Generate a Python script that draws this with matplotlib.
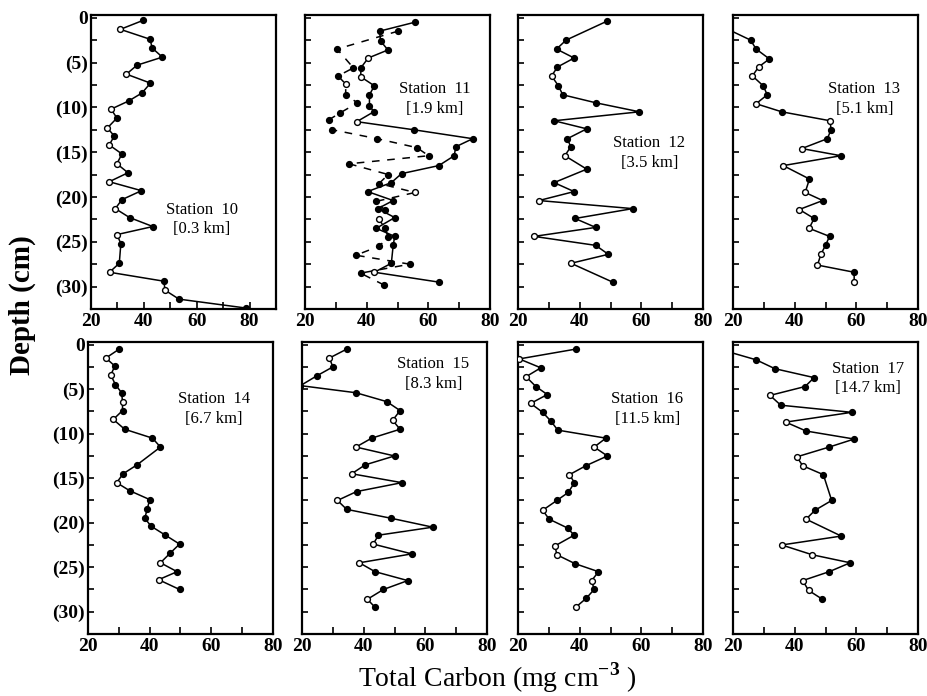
import matplotlib
matplotlib.use("Agg")
import matplotlib.pyplot as plt

plt.rcParams['font.family'] = ['Liberation Serif', 'DejaVu Serif']
plt.rcParams['mathtext.fontset'] = 'custom'
plt.rcParams['mathtext.rm'] = 'Liberation Serif'
plt.rcParams['mathtext.bf'] = 'Liberation Serif:bold'

# ---- data: depth (cm), total carbon (mg cm-3), indices of open symbols
st10_depth = [0.3, 1.3, 2.4, 3.4, 4.4, 5.3, 6.3, 7.3, 8.4, 9.3, 10.2, 11.2, 12.3, 13.2, 14.2, 15.2,
              16.3, 17.3, 18.3, 19.3, 20.3, 21.3, 22.3, 23.3, 24.2, 25.2, 27.4, 28.4, 29.4, 30.4, 31.4, 32.4]
st10_carbon = [39.7, 31.1, 42.3, 43.2, 47.0, 37.4, 33.4, 42.5, 39.3, 34.2, 27.6, 29.8, 26.2, 28.8, 26.9, 31.7,
               29.8, 34.0, 26.9, 39.1, 31.7, 29.2, 34.6, 43.4, 29.8, 31.3, 30.7, 27.0, 47.6, 48.0, 53.3, 78.8]
st10_open = [1, 6, 10, 12, 14, 16, 18, 21, 24, 27, 29]

# station 11 has two overlapping profiles: a solid one and a dashed one
st11a_depth = [0.5, 1.5, 2.6, 3.6, 4.5, 5.6, 6.6, 7.6, 8.6, 9.8, 10.5, 11.6, 12.5, 13.5, 14.4, 15.4,
               16.5, 17.4, 18.4, 19.4, 20.4, 21.3, 22.3, 23.5, 24.4, 25.4, 27.4, 28.4, 29.5]
st11a_carbon = [55.7, 44.2, 44.5, 46.9, 40.5, 38.1, 38.1, 42.5, 40.9, 40.9, 42.3, 36.8, 55.2, 74.4, 68.9, 68.4,
                63.4, 51.3, 48.0, 40.3, 48.6, 43.6, 49.1, 43.1, 49.1, 48.6, 48.0, 42.5, 63.4]
st11a_open = [4, 6, 11, 27]
st11b_depth = [1.5, 3.5, 5.6, 6.5, 7.4, 8.6, 9.5, 10.6, 11.4, 12.5, 13.5, 14.5, 15.4, 16.3, 17.5,
               18.5, 19.5, 20.5, 21.5, 22.5, 23.5, 24.5, 25.5, 26.5, 27.5, 28.5, 29.8]
st11b_carbon = [50.2, 30.4, 35.7, 30.7, 33.2, 33.2, 37.0, 31.5, 27.7, 28.8, 43.4, 56.3, 60.1, 34.3, 47.0,
                44.0, 55.7, 43.0, 46.0, 44.0, 46.0, 47.0, 44.0, 36.5, 54.0, 38.0, 45.5]
st11b_open = [4, 16, 19]

st12_depth = [0.4, 2.5, 3.5, 4.5, 5.5, 6.5, 7.6, 8.6, 9.5, 10.5, 11.5, 12.4, 13.5, 14.4, 15.4, 16.9,
              18.4, 19.4, 20.4, 21.3, 22.4, 23.4, 24.4, 25.4, 26.4, 27.4, 29.5]
st12_carbon = [48.8, 35.6, 32.5, 38.2, 32.8, 30.9, 33.1, 34.5, 45.3, 59.4, 31.7, 42.3, 36.0, 37.1, 35.2, 42.3,
               31.7, 38.2, 26.8, 57.2, 38.5, 45.2, 25.2, 45.2, 49.3, 37.2, 50.7]
st12_open = [5, 14, 18, 22, 25]

st13_depth = [0.5, 2.5, 3.5, 4.6, 5.5, 6.5, 7.6, 8.6, 9.6, 10.5, 11.5, 12.5, 13.5, 14.6, 15.4, 16.5,
              18.0, 19.5, 20.4, 21.4, 22.4, 23.5, 24.4, 25.4, 26.4, 27.6, 28.4, 29.5]
st13_carbon = [13.5, 25.7, 27.5, 31.8, 28.3, 26.3, 29.8, 31.1, 27.5, 35.8, 51.5, 51.8, 50.6, 42.3, 55.0, 36.3,
               44.8, 43.4, 49.1, 41.5, 46.3, 44.7, 51.3, 50.0, 48.5, 47.4, 59.3, 59.3]
st13_open = [4, 5, 8, 10, 13, 15, 17, 19, 21, 24, 25, 27]

st14_depth = [0.5, 1.5, 2.4, 3.4, 4.5, 5.4, 6.4, 7.4, 8.4, 9.5, 10.5, 11.5, 13.5, 14.5, 15.5, 16.4,
              17.4, 18.5, 19.5, 20.4, 21.4, 22.4, 23.4, 24.5, 25.5, 26.4, 27.5]
st14_carbon = [30.1, 25.8, 28.7, 27.4, 28.9, 30.9, 31.2, 31.2, 28.2, 31.9, 40.9, 43.5, 35.9, 31.4, 29.3, 33.5,
               40.0, 39.2, 38.4, 40.5, 45.1, 49.7, 46.7, 43.5, 48.9, 42.9, 49.7]
st14_open = [1, 3, 6, 8, 14, 23, 25]

st15_depth = [0.5, 1.5, 2.5, 3.5, 4.6, 5.4, 6.4, 7.4, 8.5, 9.5, 10.5, 11.5, 12.5, 13.5, 14.5, 15.5,
              16.5, 17.5, 18.5, 19.5, 20.5, 21.4, 22.4, 23.5, 24.5, 25.5, 26.5, 27.5, 28.6, 29.5]
st15_carbon = [34.5, 28.9, 30.0, 24.8, 19.5, 37.5, 47.5, 51.8, 49.4, 51.8, 42.6, 37.5, 50.0, 40.5, 36.1, 52.4,
               37.7, 31.5, 34.5, 48.9, 62.4, 44.8, 43.1, 55.6, 38.6, 43.7, 54.3, 46.4, 41.2, 43.7]
st15_open = [1, 8, 11, 14, 17, 22, 24, 28]

st16_depth = [0.5, 1.6, 2.6, 3.6, 4.7, 5.6, 6.6, 7.6, 8.6, 9.6, 10.5, 11.5, 12.5, 13.6, 14.6, 15.5,
              16.6, 17.5, 18.6, 19.6, 20.6, 21.4, 22.6, 23.6, 24.6, 25.5, 26.5, 27.5, 28.5, 29.5]
st16_carbon = [38.7, 20.4, 27.4, 22.6, 25.8, 29.5, 24.1, 28.0, 30.7, 32.9, 48.5, 44.7, 49.0, 42.0, 36.7, 38.3,
               36.3, 32.6, 28.0, 30.1, 36.1, 38.2, 32.0, 32.6, 38.5, 46.1, 43.9, 44.7, 42.1, 38.7]
st16_open = [1, 3, 6, 11, 14, 18, 22, 23, 26, 29]

st17_depth = [0.5, 1.7, 2.7, 3.7, 4.7, 5.7, 6.8, 7.6, 8.7, 9.7, 10.6, 11.5, 12.6, 13.6, 14.6, 17.5,
              18.6, 19.6, 21.5, 22.5, 23.6, 24.5, 25.5, 26.5, 27.6, 28.6]
st17_carbon = [15.5, 27.5, 33.6, 46.3, 43.4, 32.0, 35.5, 58.5, 37.1, 43.7, 59.3, 51.2, 40.7, 42.6, 49.3, 52.0,
               46.6, 43.7, 55.1, 35.8, 45.7, 58.0, 51.2, 42.6, 44.5, 49.0]
st17_open = [5, 8, 12, 13, 17, 19, 20, 23, 24]

station_names = ['10', '11', '12', '13', '14', '15', '16', '17']
station_dist = ['0.3 km', '1.9 km', '3.5 km', '5.1 km', '6.7 km', '8.3 km', '11.5 km', '14.7 km']
depth_ticks = [0, 5, 10, 15, 20, 25, 30]
depth_ticklabels = ['0', '(5)', '(10)', '(15)', '(20)', '(25)', '(30)']
carbon_ticks = [20, 40, 60, 80]


def draw_profile(ax, depth, carbon, open_idx, ls='-'):
    ax.plot(carbon, depth, color='k', lw=1.1, ls=ls, zorder=2)
    fx = [c for i, c in enumerate(carbon) if i not in open_idx]
    fy = [d for i, d in enumerate(depth) if i not in open_idx]
    ox = [carbon[i] for i in open_idx]
    oy = [depth[i] for i in open_idx]
    ax.plot(fx, fy, 'o', ms=4.2, mfc='k', mec='k', mew=1, zorder=3)
    ax.plot(ox, oy, 'o', ms=4.2, mfc='white', mec='k', mew=1, zorder=3)


W, H = 928, 696
fig = plt.figure(figsize=(W / 100, H / 100), dpi=100)

# panel boxes in pixels: left, top, right, bottom
top_lefts = [91, 305, 518, 733]
bot_lefts = [88, 302, 518, 733]
boxes = [(l, 15, l + 185, 309) for l in top_lefts] + [(l, 342, l + 185, 634) for l in bot_lefts]

profiles = [
    [(st10_depth, st10_carbon, st10_open, '-')],
    [(st11a_depth, st11a_carbon, st11a_open, '-'), (st11b_depth, st11b_carbon, st11b_open, (0, (5, 5)))],
    [(st12_depth, st12_carbon, st12_open, '-')],
    [(st13_depth, st13_carbon, st13_open, '-')],
    [(st14_depth, st14_carbon, st14_open, '-')],
    [(st15_depth, st15_carbon, st15_open, '-')],
    [(st16_depth, st16_carbon, st16_open, '-')],
    [(st17_depth, st17_carbon, st17_open, '-')],
]

# station label anchor (axes fraction)
label_pos = [(0.60, 0.305), (0.70, 0.715), (0.71, 0.53), (0.71, 0.715),
             (0.68, 0.77), (0.71, 0.89), (0.70, 0.77), (0.73, 0.875)]

for k, (l, t, r, b) in enumerate(boxes):
    ax = fig.add_axes([l / W, 1 - b / H, (r - l) / W, (b - t) / H])
    for depth, carbon, open_idx, ls in profiles[k]:
        draw_profile(ax, depth, carbon, open_idx, ls)
    ax.set_xlim(20, 90 if k == 0 else 80)
    ax.set_ylim(32.5, -0.3)
    ax.set_xticks(carbon_ticks)
    ax.set_xticks([30, 50, 70], minor=True)
    ax.set_yticks(depth_ticks)
    ax.set_yticks([2.5, 7.5, 12.5, 17.5, 22.5, 27.5, 32.5], minor=True)
    if k in (0, 4):
        ax.set_yticklabels(depth_ticklabels, fontsize=14, fontweight='bold')
    else:
        ax.set_yticklabels([])
    ax.set_xticklabels([str(v) for v in carbon_ticks], fontsize=14, fontweight='bold')
    ax.tick_params(which='both', direction='in', top=False, right=False, width=1.2)
    ax.tick_params(axis='x', which='both', length=5, pad=3)
    ax.tick_params(axis='y', which='both', length=4, pad=2)
    for s in ax.spines.values():
        s.set_linewidth(1.6)
    ax.text(label_pos[k][0], label_pos[k][1],
            'Station  ' + station_names[k] + '\n[' + station_dist[k] + ']',
            transform=ax.transAxes, ha='center', va='center', fontsize=12, linespacing=1.3)

fig.text(0.024, 0.562, 'Depth (cm)', rotation=90, ha='center', va='center',
         fontsize=21, fontweight='bold')
fig.text(0.536, 9 / H, r'Total Carbon (mg cm$^{\mathbf{-3}}$ )', ha='center', va='baseline',
         fontsize=20)

fig.savefig('out.png', dpi=100)
